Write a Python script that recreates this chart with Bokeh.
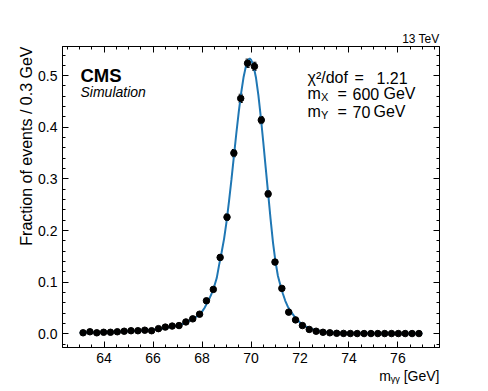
from bokeh.plotting import figure
from bokeh.models import (Range1d, LinearAxis, FixedTicker, Label, Whisker, Title,
                          ColumnDataSource, CustomJSTickFormatter, NumeralTickFormatter, TeeHead)
from bokeh.embed import file_html
from bokeh.resources import INLINE

# ---------------- data ----------------
bin_centers = [63.14, 63.42, 63.70, 63.98, 64.26, 64.54, 64.82, 65.10, 65.38, 65.66,
               65.94, 66.22, 66.50, 66.78, 67.06, 67.34, 67.62, 67.90, 68.18, 68.46,
               68.74, 69.02, 69.30, 69.58, 69.86, 70.14, 70.42, 70.70, 70.98, 71.26,
               71.54, 71.82, 72.10, 72.38, 72.66, 72.94, 73.22, 73.50, 73.78, 74.06,
               74.34, 74.62, 74.90, 75.18, 75.46, 75.74, 76.02, 76.30, 76.58, 76.86]
fractions = [0.002, 0.004, 0.002, 0.003, 0.003, 0.004, 0.005, 0.006, 0.006, 0.007,
             0.006, 0.010, 0.013, 0.015, 0.016, 0.023, 0.029, 0.038, 0.064, 0.086,
             0.148, 0.226, 0.350, 0.456, 0.524, 0.518, 0.414, 0.271, 0.139, 0.088,
             0.042, 0.027, 0.016, 0.0085, 0.005, 0.003, 0.002, 0.001, 0.0008, 0.0006,
             0.0005, 0.0005, 0.0005, 0.0005, 0.0005, 0.0005, 0.0005, 0.0005, 0.0005, 0.0005]
errors = [0.001, 0.001, 0.001, 0.001, 0.001, 0.001, 0.001, 0.001, 0.001, 0.001,
          0.001, 0.002, 0.002, 0.002, 0.002, 0.002, 0.003, 0.003, 0.004, 0.004,
          0.005, 0.006, 0.007, 0.008, 0.008, 0.008, 0.007, 0.006, 0.005, 0.004,
          0.003, 0.002, 0.002, 0.001, 0.001, 0.001, 0.001, 0.001, 0.001, 0.001,
          0.001, 0.001, 0.001, 0.001, 0.001, 0.001, 0.001, 0.001, 0.001, 0.001]

fit_x = [63.0, 64.0, 65.0, 65.5, 66.0, 66.5, 67.0, 67.2, 67.4, 67.6, 67.8, 68.0, 68.1,
         68.2, 68.3, 68.4, 68.5, 68.6, 68.7, 68.8, 68.9, 69.0, 69.1, 69.2, 69.3, 69.4,
         69.5, 69.6, 69.7, 69.8, 69.9, 69.95, 70.0, 70.1, 70.2, 70.3, 70.4, 70.5, 70.6,
         70.7, 70.8, 70.9, 71.0, 71.1, 71.2, 71.3, 71.4, 71.5, 71.6, 71.8, 72.0, 72.2,
         72.5, 73.0, 73.5, 74.0, 75.0, 76.0, 77.0]
fit_y = [0.002, 0.003, 0.005, 0.006, 0.008, 0.011, 0.016, 0.019, 0.023, 0.028, 0.034,
         0.043, 0.050, 0.059, 0.068, 0.079, 0.092, 0.108, 0.134, 0.158, 0.184, 0.217,
         0.256, 0.298, 0.343, 0.388, 0.430, 0.467, 0.498, 0.520, 0.531, 0.533, 0.531,
         0.520, 0.497, 0.463, 0.420, 0.372, 0.322, 0.272, 0.222, 0.176, 0.140, 0.112,
         0.094, 0.078, 0.064, 0.053, 0.045, 0.032, 0.022, 0.015, 0.009, 0.004, 0.002,
         0.0015, 0.001, 0.0008, 0.0006]

x_ticks = [64, 66, 68, 70, 72, 74, 76]
y_ticks = [0.0, 0.1, 0.2, 0.3, 0.4, 0.5]

# ---------------- layout ----------------
X0, X1 = 62.3, 77.7
Y0, Y1 = -0.0265, 0.5565
FL, FT, FW, FH = 62, 46, 377, 301   # frame position on canvas


def dx(px):
    return X0 + (px - FL) / FW * (X1 - X0)


def dy(py):
    return Y1 - (py - FT) / FH * (Y1 - Y0)


FONT = "Liberation Sans"

p = figure(output_backend="svg", toolbar_location=None,
           frame_width=FW, frame_height=FH,
           min_border_left=FL, min_border_top=FT,
           min_border_right=487 - FL - FW, min_border_bottom=390 - FT - FH,
           x_range=Range1d(X0, X1), y_range=Range1d(Y0, Y1))
p.background_fill_color = "white"
p.border_fill_color = "white"
p.outline_line_color = "black"
p.outline_line_width = 1
p.grid.visible = False


def style_axis(ax, ticks, minor, show_labels):
    ax.ticker = FixedTicker(ticks=ticks, minor_ticks=minor)
    ax.major_tick_in = 6
    ax.major_tick_out = 0
    ax.minor_tick_in = 3
    ax.minor_tick_out = 0
    ax.axis_line_color = "black"
    ax.major_tick_line_color = "black"
    ax.minor_tick_line_color = "black"
    ax.major_label_text_font = FONT
    ax.major_label_text_font_size = "14px"
    ax.major_label_text_color = "black"
    ax.major_label_standoff = 5
    if not show_labels:
        ax.formatter = CustomJSTickFormatter(code="return ''")
        ax.major_label_standoff = 0
        ax.major_label_text_font_size = "1px"


x_minor = [62.5 + 0.5 * i for i in range(31)]
y_minor = [round(-0.02 + 0.02 * i, 3) for i in range(29)]

style_axis(p.xaxis[0], x_ticks, x_minor, True)
p.xaxis[0].formatter = NumeralTickFormatter(format="0")
style_axis(p.yaxis[0], y_ticks, y_minor, True)
p.yaxis[0].formatter = NumeralTickFormatter(format="0.0")

top_ax = LinearAxis()
style_axis(top_ax, x_ticks, x_minor, False)
p.add_layout(top_ax, "above")
right_ax = LinearAxis()
style_axis(right_ax, y_ticks, y_minor, False)
p.add_layout(right_ax, "right")

# titles outside the frame
p.add_layout(Title(text="13 TeV", align="right", offset=0, standoff=2,
                   text_font=FONT, text_font_size="12px", text_font_style="normal",
                   text_color="black"), "above")
p.add_layout(Title(text="m\u1d67\u1d67 [GeV]", align="right", offset=0, standoff=0,
                   text_font=FONT, text_font_size="14px", text_font_style="normal",
                   text_color="black"), "below")
p.add_layout(Title(text="Fraction of events / 0.3 GeV", align="right", offset=0, standoff=2,
                   text_font=FONT, text_font_size="16px", text_font_style="normal",
                   text_color="black"), "left")

# fit curve
p.line(fit_x, fit_y, line_color="#1f77b4", line_width=2)

# data points with error bars
lower = [v - e for v, e in zip(fractions, errors)]
upper = [v + e for v, e in zip(fractions, errors)]
src = ColumnDataSource(dict(x=bin_centers, y=fractions, lo=lower, hi=upper))
wh = Whisker(base="x", lower="lo", upper="hi", source=src, dimension="height",
             line_color="black", line_width=1,
             upper_head=TeeHead(size=4, line_color="black", line_width=1),
             lower_head=TeeHead(size=4, line_color="black", line_width=1))
p.add_layout(wh)
p.scatter("x", "y", source=src, size=6.5, color="black")


def lab(text, px, py, size, align="left", style="normal"):
    p.add_layout(Label(x=dx(px), y=dy(py), text=text, text_font=FONT,
                       text_font_size=size, text_font_style=style, text_align=align,
                       text_baseline="alphabetic", text_color="black"))


# CMS labels
lab("CMS", 80, 75, "18.5px", style="bold")
lab("Simulation", 80, 91, "14px", style="italic")

# annotation block
lab("\u03c7\u00b2/dof", 307, 77, "16px")
lab("=", 354, 77, "16px")
lab("1.21", 376, 77, "16px")
lab("m", 307, 93, "16px")
lab("X", 320.5, 96, "11px")
lab("=", 337, 93, "16px")
lab("600", 352, 93, "16px")
lab("GeV", 383, 93, "16px")
lab("m", 307, 111, "16px")
lab("Y", 320.5, 114, "11px")
lab("=", 337, 111, "16px")
lab("70", 352, 111, "16px")
lab("GeV", 373, 111, "16px")

open("out.html", "w").write(file_html(p, INLINE))
